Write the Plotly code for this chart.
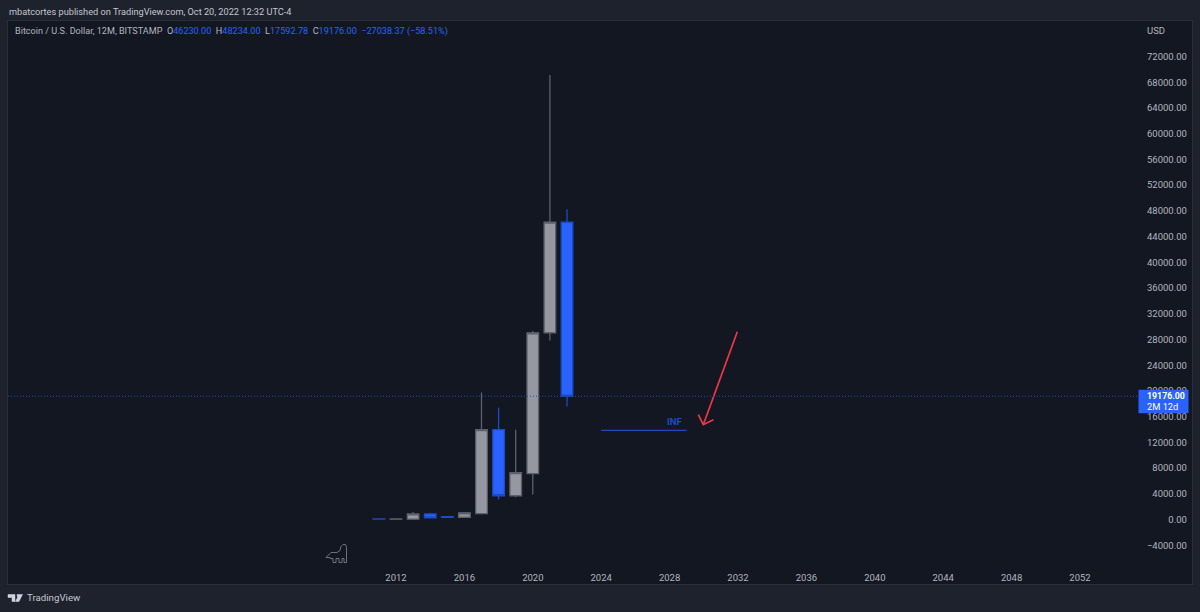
# ============================
# IMPORT LIBRARIES
# ============================
import plotly.graph_objects as go

# ============================
# CHART DATA
# ============================
years = [2011, 2012, 2013, 2014, 2015, 2016, 2017, 2018, 2019, 2020, 2021, 2022]
opens = [100, 60, 60, 880, 460, 360, 930, 13980, 3700, 7140, 29040, 46230]
highs = [130, 90, 1160, 1040, 520, 1060, 19770, 17400, 13980, 29300, 69100, 48234]
lows = [40, 30, 40, 240, 230, 340, 780, 3100, 3460, 3880, 27850, 17592.78]
closes = [70, 100, 880, 260, 360, 1040, 13980, 3700, 7300, 29040, 46230, 19176]

last_price = 19176
price_ticks = list(range(-4000, 76000, 4000))
time_ticks = list(range(2012, 2056, 4))

inf_years = [2024, 2029]
inf_prices = [13870, 13870]
arrow_years = [2031.96, 2029.97]
arrow_prices = [29200, 14750]
arrow_head_years = [2029.68, 2029.97, 2030.56]
arrow_head_prices = [16300, 14750, 15530]

# ============================
# PAGE GEOMETRY AND COLOURS
# ============================
WIDTH, HEIGHT = 1200, 612
LEFT, RIGHT, TOP, BOTTOM = 8, 1192, 21, 584.5

PX_PER_YEAR = 17.1
PX_2012 = 396
PX_PER_USD = 25.75 / 4000
PX_ZERO = 520

FRAME = "#1e222d"
PANEL = "#131722"
TEXT = "#b2b5be"
BLUE = "#2962ff"
DARK_BLUE = "#1c4bc4"
GREY = "#9598a1"
WICK = "#5d606b"
RED = "#f23645"
FONT = "Roboto"
NB = "\u00a0"


def px_x(px):
    return (px - LEFT) / (RIGHT - LEFT)


def px_y(px):
    return (BOTTOM - px) / (BOTTOM - TOP)


def label(px, py, text, size=9.5, color=TEXT, anchor="left"):
    fig.add_annotation(
        x=px_x(px), y=px_y(py), xref="paper", yref="paper", text=text,
        showarrow=False, xanchor=anchor, yanchor="middle", align=anchor,
        borderpad=0, font=dict(family=FONT, size=size, color=color),
    )


def glyph(points, color, width=1.0, fill=None):
    # small decorative paths, given in page pixels
    path = ""
    for i, (px, py) in enumerate(points):
        path += f"{'M' if i == 0 else 'L'}{px_x(px):.5f},{px_y(py):.5f} "
    fig.add_shape(
        type="path", xref="paper", yref="paper", path=path + ("Z" if fill else ""),
        line=dict(color=color, width=width), fillcolor=fill, layer="above",
    )


# ============================
# CANDLES
# ============================
fig = go.Figure()

fig.add_trace(go.Candlestick(
    x=years, open=opens, high=highs, low=lows, close=closes,
    increasing=dict(line=dict(color=WICK, width=1.3), fillcolor=GREY),
    decreasing=dict(line=dict(color=DARK_BLUE, width=1.3), fillcolor=BLUE),
    whiskerwidth=0,
    hoverinfo="skip",
    showlegend=False,
))

# ============================
# DRAWINGS
# ============================
fig.add_trace(go.Scatter(
    x=inf_years, y=inf_prices, mode="lines",
    line=dict(color=DARK_BLUE, width=1.4), hoverinfo="skip", showlegend=False,
))
fig.add_trace(go.Scatter(
    x=arrow_years, y=arrow_prices, mode="lines",
    line=dict(color=RED, width=1.7), hoverinfo="skip", showlegend=False,
))
fig.add_trace(go.Scatter(
    x=arrow_head_years, y=arrow_head_prices, mode="lines",
    line=dict(color=RED, width=1.7), hoverinfo="skip", showlegend=False,
))

fig.add_shape(
    type="line", xref="paper", yref="y", x0=0, x1=px_x(1137),
    y0=last_price, y1=last_price, line=dict(color=DARK_BLUE, width=1, dash="1px,2px"),
)

# ============================
# LAYOUT
# ============================
fig.update_layout(
    width=WIDTH,
    height=HEIGHT,
    autosize=False,
    paper_bgcolor=FRAME,
    plot_bgcolor=PANEL,
    margin=dict(l=LEFT, r=WIDTH - RIGHT, t=TOP, b=HEIGHT - BOTTOM, pad=0),
    boxgap=0.03,
    font=dict(family=FONT, size=9.5, color=TEXT),
    xaxis=dict(
        range=[2012 + (LEFT - PX_2012) / PX_PER_YEAR, 2012 + (RIGHT - PX_2012) / PX_PER_YEAR],
        tickvals=time_ticks,
        ticklabelposition="inside",
        ticks="",
        showgrid=False,
        zeroline=False,
        showline=True,
        linecolor="#2a2e39",
        mirror=True,
        rangeslider=dict(visible=False),
        tickfont=dict(family=FONT, size=9.5, color=TEXT),
    ),
    yaxis=dict(
        side="right",
        range=[(PX_ZERO - BOTTOM) / PX_PER_USD, (PX_ZERO - TOP) / PX_PER_USD],
        tickvals=price_ticks,
        tickformat=".2f",
        ticklabelposition="inside",
        ticklabelstandoff=4,
        ticks="",
        showgrid=False,
        zeroline=False,
        showline=True,
        linecolor="#2a2e39",
        mirror=True,
        tickfont=dict(family=FONT, size=9.5, color=TEXT),
    ),
)

# ============================
# TEXT
# ============================
label(8, 11, "mbatcortes published on TradingView.com, Oct 20, 2022 12:32 UTC-4", size=9.2, color="#c4c6cd")
legend_value = '<span style="color:#2962ff">%s</span>'
gap = NB + NB
label(
    14, 32,
    "Bitcoin / U.S. Dollar, 12M, BITSTAMP" + gap + "O" + legend_value % "46230.00"
    + gap + "H" + legend_value % "48234.00"
    + gap + "L" + legend_value % "17592.78"
    + gap + "C" + legend_value % "19176.00"
    + gap + legend_value % "−27038.37 (−58.51%)",
    size=9.1,
)
label(1146, 31, "USD", size=9.5)
label(674, 421.5, "<b>INF</b>", size=9.5, color=DARK_BLUE, anchor="center")
label(25.5, 598.5, "TradingView", size=9.7, color="#c4c6cd")

# price tag
fig.add_shape(
    type="rect", xref="paper", yref="paper",
    x0=px_x(1138.5), x1=px_x(1188.5), y0=px_y(390), y1=px_y(413.5),
    fillcolor=BLUE, line=dict(width=0), layer="above",
)
label(1146, 396.5, "<b>19176.00</b>", size=8.8, color="#ffffff")
label(1146, 407, "2M 12d", size=9.3, color="#ffffff")

# TradingView logo
glyph([(8, 595), (15, 595), (15, 602), (12, 602), (12, 598), (8, 598)], "#d1d4dc", 0.5, "#d1d4dc")
glyph([(17, 595), (22.5, 595), (19, 602), (15.5, 602), (17.5, 598)], "#d1d4dc", 0.5, "#d1d4dc")

# dinosaur mark
glyph(
    [(326, 558), (331, 553), (337, 553), (340, 551), (341, 547), (343, 545), (345.5, 545),
     (346.5, 548), (346.5, 563), (344, 563), (344, 559), (342, 559), (342, 563),
     (339, 563), (339, 559), (336, 559), (336, 563), (333, 563), (333, 559),
     (330, 559), (330, 558), (326, 558)],
    "#9598a1", 0.7,
)

fig.write_html(
    "out.html",
    config={"displayModeBar": False},
    post_script="document.body.style.margin = '0';",
)
